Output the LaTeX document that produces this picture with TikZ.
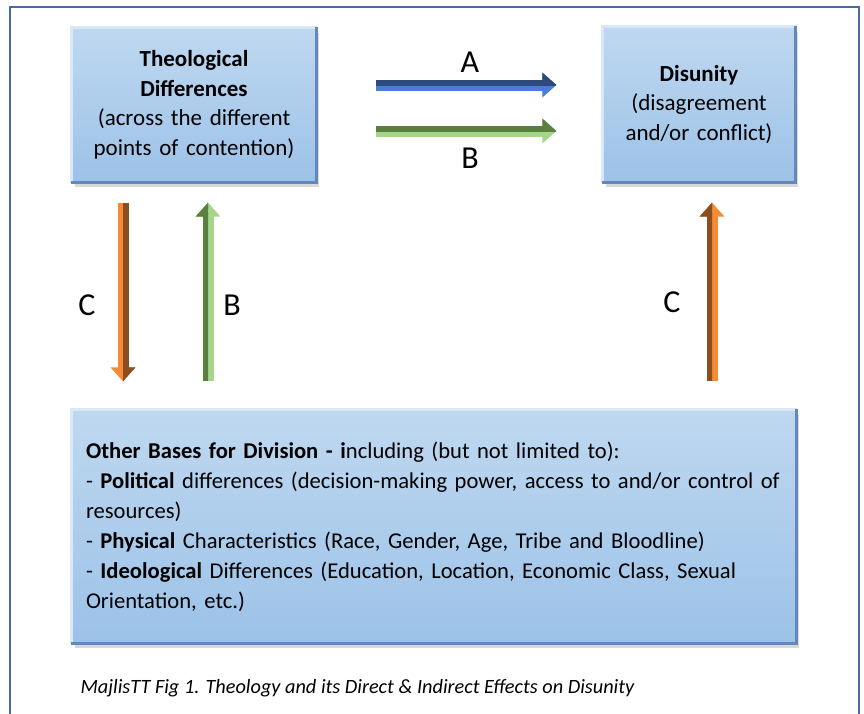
\documentclass[tikz,border=0pt]{standalone}
\usepackage{fontspec}
\setmainfont{Carlito}
\usetikzlibrary{arrows.meta,shadows}
\definecolor{cadre}{HTML}{4A6AA5}
\definecolor{bord}{HTML}{7F9FCF}
\definecolor{haut}{HTML}{BFD8F0}
\definecolor{bas}{HTML}{9CC2E8}
\definecolor{clair}{HTML}{D8E8F8}
\definecolor{sombre}{HTML}{6388BA}
\definecolor{bleu}{HTML}{4A7DD8}
\definecolor{bleufonce}{HTML}{2E4A7D}
\definecolor{vert}{HTML}{A6D68C}
\definecolor{vertfonce}{HTML}{5A7F3F}
\definecolor{orange}{HTML}{F78B35}
\definecolor{orangefonce}{HTML}{8B4E20}
\begin{document}
\begin{tikzpicture}[x=1pt,y=-1pt]
  \tikzstyle{boite}=[draw=bord,line width=1.2pt,top color=haut,bottom color=bas,
    drop shadow={shadow xshift=3pt,shadow yshift=-5pt,opacity=0.3},
    inner sep=0pt,font=\fontsize{23}{29.5}\selectfont]
  \tikzstyle{lumiere}=[clair,line width=3pt]
  \tikzstyle{arete}=[sombre,line width=3pt]
  \tikzstyle{lettre}=[font=\fontsize{32}{36}\selectfont]
  \tikzstyle{fleche}=[line width=11pt,-{Triangle[length=14pt,width=24pt]}]
  \useasboundingbox (0,0) rectangle (864,713);
  \fill[white] (0,0) rectangle (864,713);
  \draw[cadre,line width=2pt] (10,7) rectangle (859,730);
  % les trois boites
  \node[boite,minimum width=244pt,minimum height=154pt,text width=230pt,align=center] (theo) at (194,105)
    {\textbf{Theological}\\\textbf{Differences}\\(across the different\\points of contention)};
  \node[boite,minimum width=192pt,minimum height=155pt,text width=180pt,align=center] (dis) at (699,104.5)
    {\textbf{Disunity}\\(disagreement\\and/or conflict)};
  \node[boite,minimum width=724pt,minimum height=233pt,text width=696pt,align=left,inner xsep=14pt,
    font=\fontsize{22.6}{30}\selectfont] (bases) at (434,526.5)
    {\textbf{Other Bases for Division - i}ncluding (but not limited to):\\
     - \textbf{Political} differences (decision-making power, access to and/or control of\\
     resources)\\
     - \textbf{Physical} Characteristics (Race, Gender, Age, Tribe and Bloodline)\\
     - \textbf{Ideological} Differences (Education, Location, Economic Class, Sexual\\
     Orientation, etc.)};
  \foreach \b in {theo,dis,bases} {
    \draw[lumiere] (\b.south west) -- (\b.north west) -- (\b.north east);
    \draw[arete] (\b.north east) -- (\b.south east) -- (\b.south west);
  }
  % fleches A et B
  \draw[fleche,bleu,shorten <=59pt,shorten >=46pt] ([yshift=20pt]theo.east) -- ([yshift=20pt]theo.east -| dis.west);
  \begin{scope}
    \clip ([yshift=20pt]theo.east) rectangle ([yshift=40pt]theo.east -| dis.west);
    \draw[fleche,bleufonce,shorten <=59pt,shorten >=46pt] ([yshift=20pt]theo.east) -- ([yshift=20pt]theo.east -| dis.west);
  \end{scope}
  \draw[fleche,vert,shorten <=59pt,shorten >=46pt] ([yshift=-26pt]theo.east) -- ([yshift=-26pt]theo.east -| dis.west);
  \begin{scope}
    \clip ([yshift=-26pt]theo.east) rectangle ([yshift=-6pt]theo.east -| dis.west);
    \draw[fleche,vertfonce,shorten <=59pt,shorten >=46pt] ([yshift=-26pt]theo.east) -- ([yshift=-26pt]theo.east -| dis.west);
  \end{scope}
  % fleches verticales
  \draw[fleche,orange,shorten <=20pt,shorten >=28pt] ([xshift=-71pt]theo.south) -- ([xshift=-71pt]theo.south |- bases.north);
  \begin{scope}
    \clip ([xshift=-71pt]theo.south) rectangle ([xshift=-51pt]theo.south |- bases.north);
    \draw[fleche,orangefonce,shorten <=20pt,shorten >=28pt] ([xshift=-71pt]theo.south) -- ([xshift=-71pt]theo.south |- bases.north);
  \end{scope}
  \draw[fleche,vert,shorten <=28pt,shorten >=20pt] ([xshift=14pt]theo.south |- bases.north) -- ([xshift=14pt]theo.south);
  \begin{scope}
    \clip ([xshift=-6pt]theo.south) rectangle ([xshift=14pt]theo.south |- bases.north);
    \draw[fleche,vertfonce,shorten <=28pt,shorten >=20pt] ([xshift=14pt]theo.south |- bases.north) -- ([xshift=14pt]theo.south);
  \end{scope}
  \draw[fleche,orange,shorten <=28pt,shorten >=20pt] ([xshift=13pt]dis.south |- bases.north) -- ([xshift=13pt]dis.south);
  \begin{scope}
    \clip ([xshift=-7pt]dis.south) rectangle ([xshift=13pt]dis.south |- bases.north);
    \draw[fleche,orangefonce,shorten <=28pt,shorten >=20pt] ([xshift=13pt]dis.south |- bases.north) -- ([xshift=13pt]dis.south);
  \end{scope}
  % lettres
  \node[lettre] (la) at (470,62) {A};
  \node[lettre] (lb) at (470,158) {B};
  \node[lettre] (lc) at (87,305) {C};
  \node[lettre] (lb2) at (232,305) {B};
  \node[lettre] (lc2) at (672,302) {C};
  \node[font=\itshape\fontsize{20.3}{24}\selectfont,anchor=west] (legende) at (77,688)
    {MajlisTT Fig 1. Theology and its Direct \& Indirect Effects on Disunity};
\end{tikzpicture}
\end{document}
